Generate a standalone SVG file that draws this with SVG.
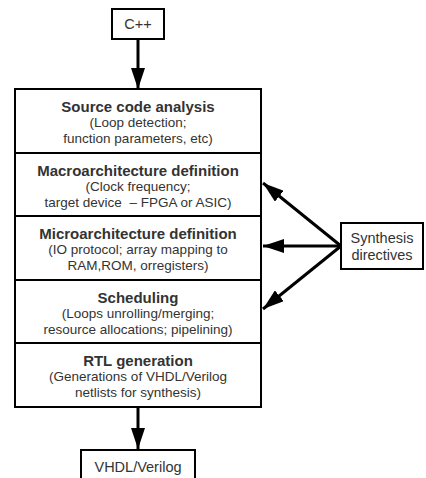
<svg xmlns="http://www.w3.org/2000/svg" width="426" height="478" viewBox="0 0 426 478">
<style>
.box{fill:#fff;stroke:#000;stroke-width:2}
.t{font-family:"Liberation Sans",Arial,sans-serif;fill:#333;text-anchor:middle;white-space:pre}
.b{font-size:15px;font-weight:bold}
.n{font-size:13.5px}
.m{font-size:14.5px}
.c{stroke:#000;stroke-width:3;fill:none}
</style>
<defs>
<marker id="ah" markerUnits="userSpaceOnUse" markerWidth="22" markerHeight="14" refX="21" refY="7" orient="auto">
<path d="M0,0 L21,7 L0,14 Z" fill="#000"/>
</marker>
</defs>
<g id="connectors">
<line class="c" x1="138" y1="39" x2="138" y2="89" marker-end="url(#ah)"/>
<line class="c" x1="138" y1="407" x2="138" y2="449" marker-end="url(#ah)"/>
<line class="c" x1="341" y1="246" x2="263" y2="183" marker-end="url(#ah)"/>
<line class="c" x1="341" y1="246" x2="263" y2="246" marker-end="url(#ah)"/>
<line class="c" x1="341" y1="246" x2="263" y2="309" marker-end="url(#ah)"/>
</g>
<g id="cpp">
<rect class="box" x="112" y="9" width="52" height="30"/>
<text class="t m" x="138" y="29">C++</text>
</g>
<g id="source">
<rect class="box" x="15" y="89" width="246" height="64"/>
<text class="t b" x="138" y="112">Source code analysis</text>
<text class="t n" x="138" y="127">(Loop detection;</text>
<text class="t n" x="138" y="143">function parameters, etc)</text>
</g>
<g id="macro">
<rect class="box" x="15" y="153" width="246" height="63"/>
<text class="t b" x="138" y="176">Macroarchitecture definition</text>
<text class="t n" x="138" y="191">(Clock frequency;</text>
<text class="t n" x="138" y="207" xml:space="preserve">target device  – FPGA or ASIC)</text>
</g>
<g id="micro">
<rect class="box" x="15" y="216" width="246" height="64"/>
<text class="t b" x="138" y="239">Microarchitecture definition</text>
<text class="t n" x="138" y="254">(IO protocol; array mapping to</text>
<text class="t n" x="138" y="270">RAM,ROM, orregisters)</text>
</g>
<g id="sched">
<rect class="box" x="15" y="280" width="246" height="63"/>
<text class="t b" x="138" y="303">Scheduling</text>
<text class="t n" x="138" y="318">(Loops unrolling/merging;</text>
<text class="t n" x="138" y="334">resource allocations; pipelining)</text>
</g>
<g id="rtl">
<rect class="box" x="15" y="343" width="246" height="64"/>
<text class="t b" x="138" y="366">RTL generation</text>
<text class="t n" x="138" y="381">(Generations of VHDL/Verilog</text>
<text class="t n" x="138" y="397">netlists for synthesis)</text>
</g>
<g id="vhdl">
<rect class="box" x="81" y="450" width="114" height="32"/>
<text class="t m" x="138" y="472">VHDL/Verilog</text>
</g>
<g id="synth">
<rect class="box" x="341" y="223" width="82" height="46"/>
<text class="t m" x="382" y="243">Synthesis</text>
<text class="t m" x="382" y="260">directives</text>
</g>
</svg>
